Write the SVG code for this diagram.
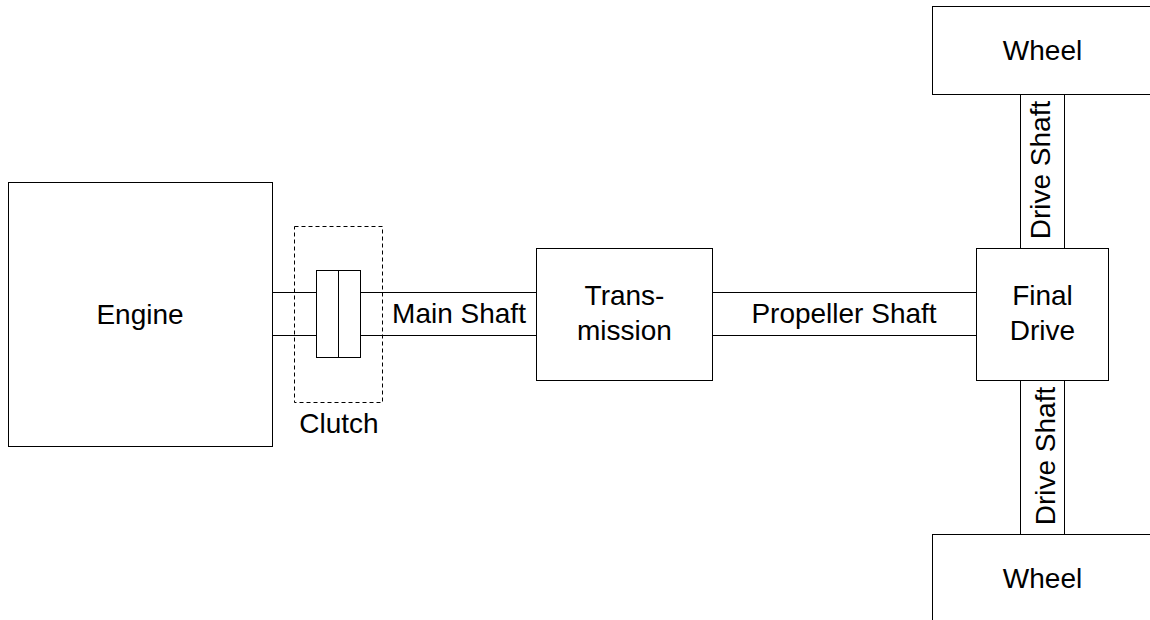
<svg xmlns="http://www.w3.org/2000/svg" width="1150" height="620" viewBox="0 0 1150 620">
<style>
.box{fill:#fff;stroke:#000;stroke-width:1}
.shaft{fill:none;stroke:#000;stroke-width:1}
.dash{fill:none;stroke:#000;stroke-width:1;stroke-dasharray:4 3}
text{font-family:"Liberation Sans",Arial,sans-serif;font-size:28px;fill:#000;text-anchor:middle}
</style>
<rect width="1150" height="620" fill="#fff"/>
<g id="connectors">
<path class="shaft" d="M272.5 292.5H536.5M272.5 335.5H536.5"/>
<path class="shaft" d="M712.5 292.5H976.5M712.5 335.5H976.5"/>
<path class="shaft" d="M1020.5 94.5V248.5M1064.5 94.5V248.5"/>
<path class="shaft" d="M1020.5 380.5V534.5M1064.5 380.5V534.5"/>
<text x="459" y="323">Main Shaft</text>
<text x="844" y="323">Propeller Shaft</text>
<text transform="translate(1050,170) rotate(-90)">Drive Shaft</text>
<text transform="translate(1055,456) rotate(-90)">Drive Shaft</text>
</g>
<g id="engine">
<rect class="box" x="8.5" y="182.5" width="264" height="264"/>
<text x="140" y="324">Engine</text>
</g>
<g id="clutch">
<rect class="dash" x="294.5" y="226.5" width="88" height="176"/>
<rect class="box" x="316.5" y="270.5" width="22" height="87"/>
<rect class="box" x="338.5" y="270.5" width="22" height="87"/>
<text x="339" y="433">Clutch</text>
</g>
<g id="transmission">
<rect class="box" x="536.5" y="248.5" width="176" height="132"/>
<text x="624.5" y="305">Trans-</text>
<text x="624.5" y="340">mission</text>
</g>
<g id="final-drive">
<rect class="box" x="976.5" y="248.5" width="132" height="132"/>
<text x="1042.5" y="305">Final</text>
<text x="1042.5" y="340">Drive</text>
</g>
<g id="wheel-top">
<rect class="box" x="932.5" y="6.5" width="240" height="88"/>
<text x="1042.5" y="60">Wheel</text>
</g>
<g id="wheel-bottom">
<rect class="box" x="932.5" y="534.5" width="240" height="100"/>
<text x="1042.5" y="588">Wheel</text>
</g>
</svg>
